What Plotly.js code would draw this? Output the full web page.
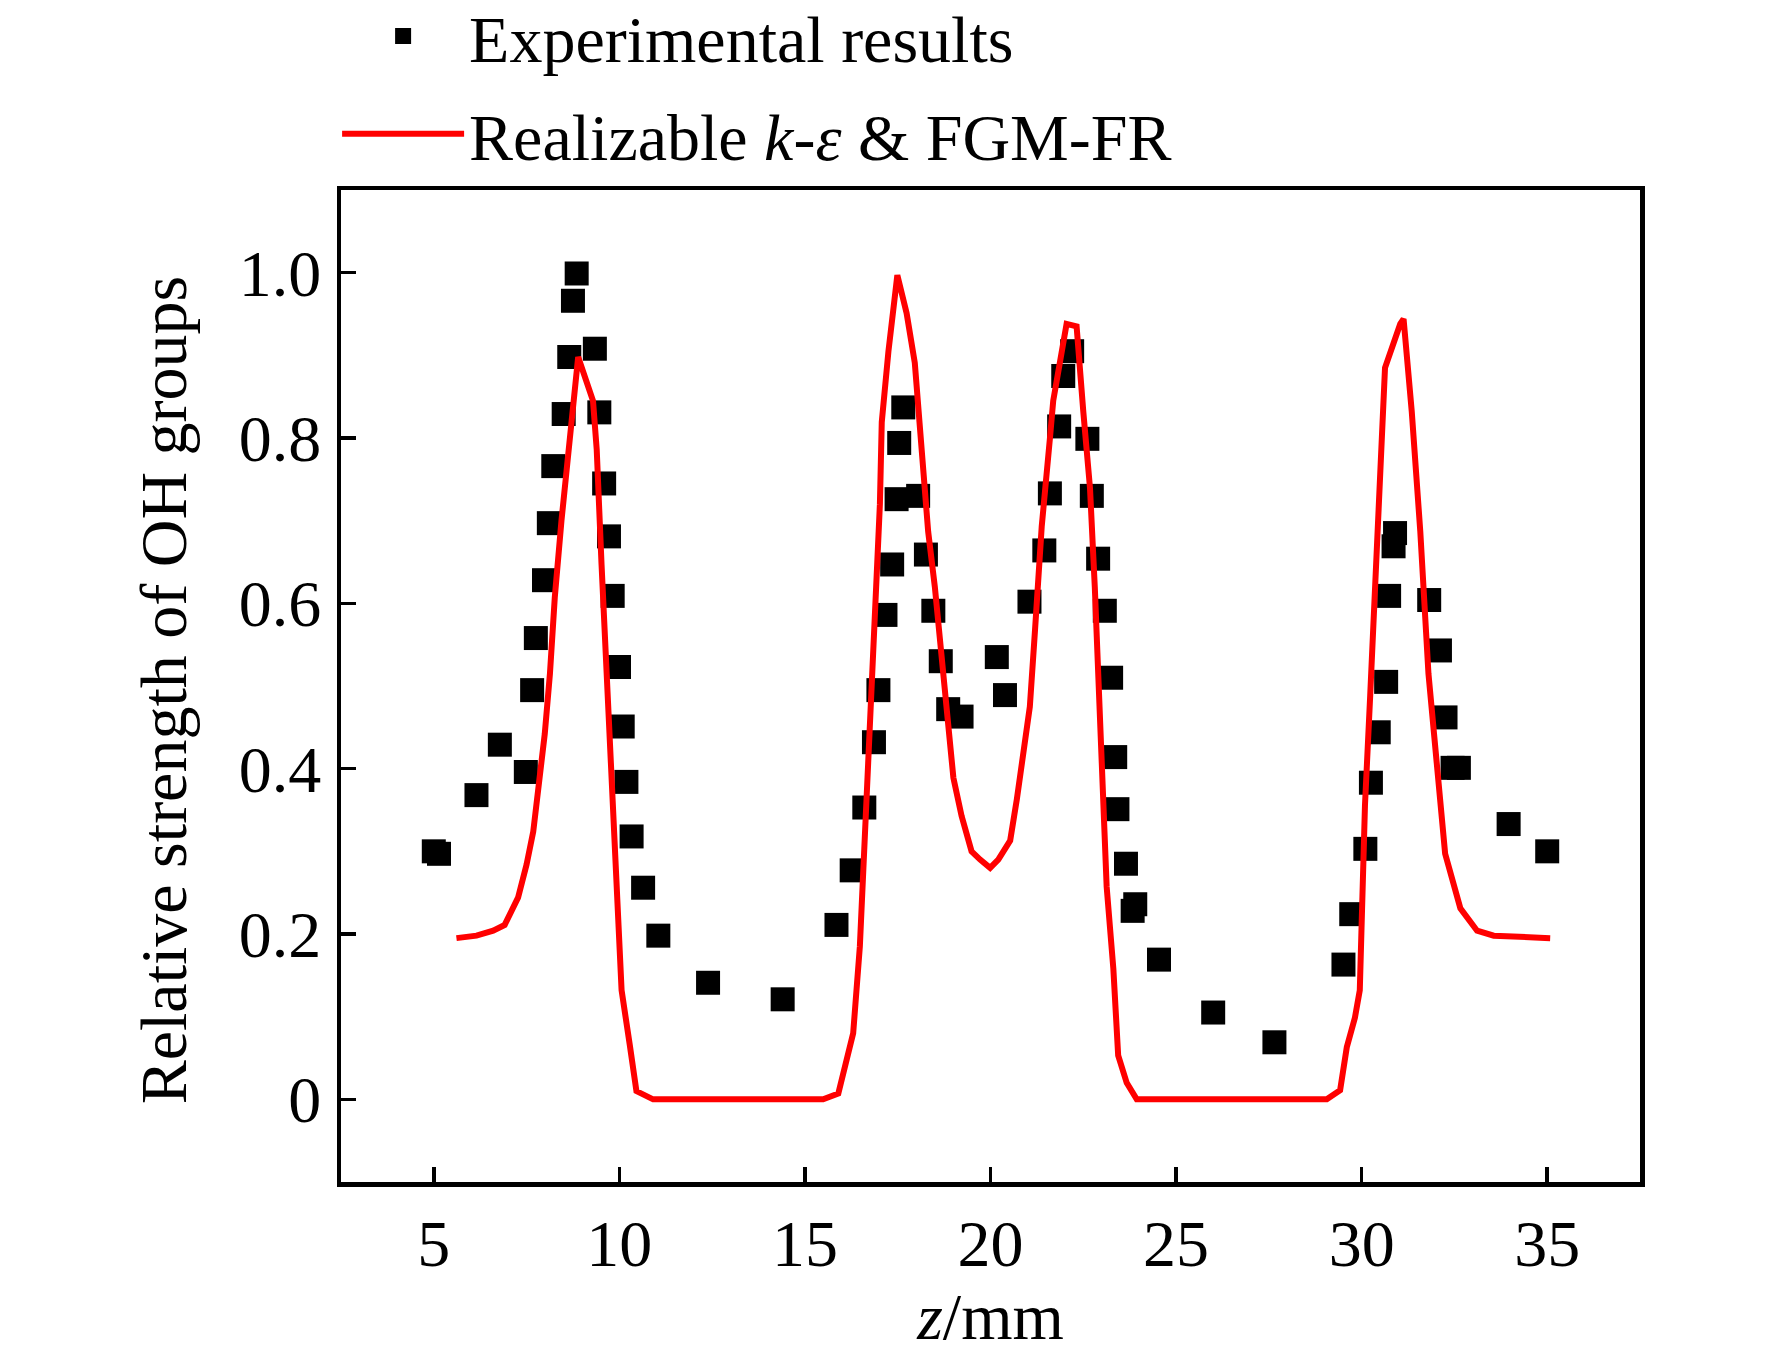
<!DOCTYPE html>
<html>
<head>
<meta charset="utf-8">
<script src="https://cdn.plot.ly/plotly-3.0.1.min.js"></script>
<style>
  html, body { margin: 0; padding: 0; background: white; }
  #chart { width: 1772px; height: 1353px; }
</style>
</head>
<body>
<div id="chart"></div>
<script>
// experimental OH strength (black squares)
const expZ = [5.0, 5.14, 6.15, 6.78, 7.48, 7.65, 7.75, 7.97, 8.1, 8.22,
  8.5, 8.65, 8.75, 8.85, 9.34, 9.46, 9.59, 9.72, 9.82, 9.99,
  10.09, 10.19, 10.33, 10.64, 11.05, 12.39, 14.4, 15.85, 16.26, 16.6,
  16.86, 16.98, 17.17, 17.35, 17.47, 17.54, 17.65, 18.05, 18.26, 18.46,
  18.66, 18.86, 19.22, 20.17, 20.39, 21.05, 21.45, 21.6, 21.85, 21.96,
  22.2, 22.61, 22.73, 22.9, 23.08, 23.25, 23.36, 23.42, 23.65, 23.83,
  23.9, 24.54, 26.0, 27.65, 29.51, 29.72, 30.1, 30.25, 30.46, 30.66,
  30.74, 30.86, 30.9, 31.82, 32.11, 32.26, 32.45, 32.62, 33.96, 35.0];
const expOH = [0.30, 0.297, 0.368, 0.429, 0.396, 0.495, 0.558, 0.628, 0.697, 0.766,
  0.829, 0.898, 0.966, 0.999, 0.908, 0.831, 0.745, 0.681, 0.609, 0.523,
  0.451, 0.384, 0.318, 0.256, 0.198, 0.141, 0.121, 0.211, 0.277, 0.353,
  0.432, 0.495, 0.586, 0.647, 0.726, 0.794, 0.837, 0.73, 0.659, 0.591,
  0.53, 0.472, 0.463, 0.535, 0.489, 0.602, 0.664, 0.733, 0.814, 0.875,
  0.905, 0.799, 0.73, 0.654, 0.591, 0.51, 0.414, 0.351, 0.285, 0.228,
  0.236, 0.169, 0.105, 0.069, 0.163, 0.224, 0.303, 0.383, 0.444, 0.505,
  0.609, 0.669, 0.685, 0.604, 0.543, 0.462, 0.401, 0.401, 0.333, 0.30];

// Realizable k-eps & FGM-FR simulation (red line)
const simZ = [5.61, 6.15, 6.6, 6.91, 7.27, 7.5, 7.68, 7.81, 7.99, 8.13,
  8.26, 8.44, 8.67, 8.89, 9.29, 9.39, 9.52, 9.66, 9.79, 9.92,
  10.06, 10.28, 10.46, 10.91, 15.49, 15.9, 16.3, 16.48, 16.62, 16.75,
  16.89, 17.02, 17.07, 17.25, 17.49, 17.74, 17.96, 18.1, 18.19, 18.32,
  18.5, 18.68, 18.86, 19.0, 19.22, 19.49, 19.72, 19.99, 20.21, 20.53,
  20.71, 20.88, 21.06, 21.2, 21.38, 21.6, 21.69, 22.05, 22.32, 22.5,
  22.68, 22.81, 22.9, 23.0, 23.13, 23.31, 23.44, 23.67, 23.94, 29.06,
  29.42, 29.6, 29.82, 29.95, 30.0, 30.09, 30.23, 30.36, 30.5, 30.63,
  31.04, 31.13, 31.35, 31.58, 31.8, 31.98, 32.25, 32.66, 33.11, 33.56, 35.08];
const simOH = [0.195, 0.198, 0.204, 0.211, 0.244, 0.284, 0.324, 0.37, 0.442, 0.515,
  0.607, 0.70, 0.799, 0.898, 0.845, 0.786, 0.647, 0.515, 0.389, 0.257,
  0.132, 0.066, 0.01, 0.0, 0.0, 0.007, 0.08, 0.185, 0.324, 0.449,
  0.594, 0.72, 0.819, 0.905, 0.997, 0.951, 0.891, 0.819, 0.753, 0.687,
  0.62, 0.542, 0.462, 0.389, 0.343, 0.30, 0.29, 0.28, 0.29, 0.313,
  0.363, 0.422, 0.475, 0.568, 0.693, 0.799, 0.845, 0.938, 0.935, 0.832,
  0.74, 0.62, 0.515, 0.383, 0.257, 0.158, 0.053, 0.02, 0.0, 0.0,
  0.011, 0.063, 0.099, 0.132, 0.224, 0.356, 0.488, 0.62, 0.753, 0.885,
  0.938, 0.944, 0.832, 0.687, 0.515, 0.422, 0.297, 0.231, 0.204, 0.198, 0.195];

const xTicks = [5, 10, 15, 20, 25, 30, 35];
const yTicks = [0, 0.2, 0.4, 0.6, 0.8, 1.0];
const yTickText = ['0', '0.2', '0.4', '0.6', '0.8', '1.0'];

const FONT = 'Liberation Serif, Times New Roman, serif';

const traces = [
  {
    x: expZ,
    y: expOH,
    mode: 'markers',
    type: 'scatter',
    name: 'Experimental results',
    legendgroup: 'exp',
    marker: { symbol: 'square', size: 24, color: 'black', line: { width: 0 } }
  },
  {
    x: simZ,
    y: simOH,
    mode: 'lines',
    type: 'scatter',
    name: 'Realizable <i>k</i>-<i>ε</i> &amp; FGM-FR',
    legendgroup: 'sim',
    line: { color: '#ff0000', width: 6 }
  }
];

const axisCommon = {
  showline: true,
  linecolor: 'black',
  linewidth: 4.5,
  mirror: true,
  showgrid: false,
  zeroline: false,
  ticks: 'inside',
  ticklen: 15,
  tickwidth: 3.5,
  tickcolor: 'black',
  tickangle: 0,
  automargin: false,
  tickfont: { family: FONT, size: 66, color: 'black' }
};

const layout = {
  width: 1772,
  height: 1353,
  margin: { l: 341, r: 132, t: 190, b: 171, autoexpand: false },
  paper_bgcolor: 'white',
  plot_bgcolor: 'white',
  font: { family: FONT, size: 66, color: 'black' },
  showlegend: true,
  legend: {
    xref: 'paper', yref: 'paper',
    x: -0.003, y: 1.205,
    xanchor: 'left', yanchor: 'top',
    bgcolor: 'rgba(0,0,0,0)',
    borderwidth: 0,
    itemwidth: 122,
    traceorder: 'grouped',
    tracegroupgap: 9,
    font: { family: FONT, size: 66, color: 'black' }
  },
  xaxis: Object.assign({}, axisCommon, {
    range: [2.5, 37.5],
    tickvals: xTicks,
    ticktext: xTicks.map(String),
    ticklabelstandoff: 0,
    title: { text: '<i>z</i>/mm', font: { family: FONT, size: 66, color: 'black' } }
  }),
  yaxis: Object.assign({}, axisCommon, {
    range: [-0.1, 1.1],
    tickvals: yTicks,
    ticktext: yTickText,
    ticklabelstandoff: 2
  }),
  annotations: [{
    text: 'Relative strength of OH groups',
    xref: 'paper', yref: 'paper',
    x: -0.136, y: 0.496,
    xanchor: 'center', yanchor: 'middle',
    textangle: -90,
    showarrow: false,
    font: { family: FONT, size: 66, color: 'black' }
  }]
};

Plotly.newPlot('chart', traces, layout, { displayModeBar: false, staticPlot: true });
</script>
</body>
</html>
